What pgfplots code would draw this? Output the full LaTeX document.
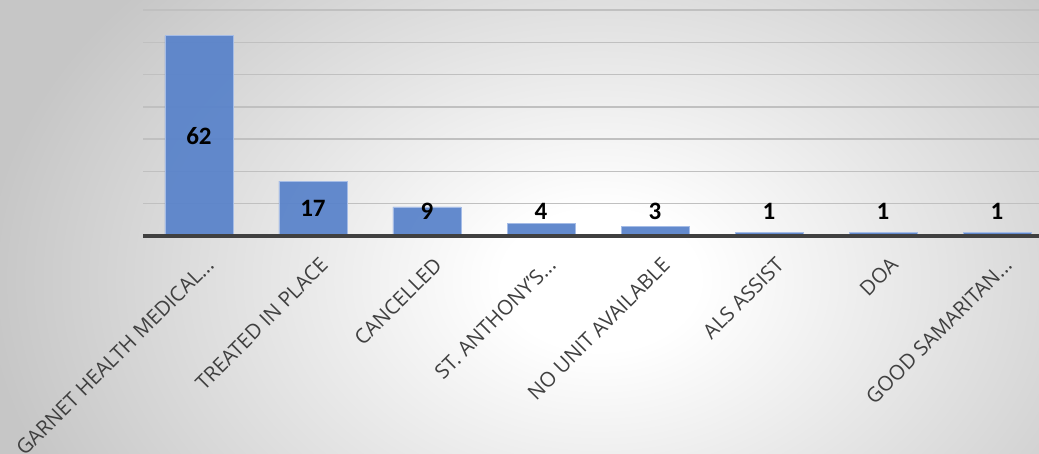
\documentclass[border=0pt]{standalone}
\usepackage{fontspec}
\setmainfont{Open Sans}
\newfontfamily\carlito{Carlito}
\usepackage{pgfplots}
\pgfplotsset{compat=1.18}
\definecolor{barblue}{RGB}{88,130,202}
\definecolor{baredge}{RGB}{165,188,230}
\definecolor{gridgray}{RGB}{192,192,192}
\definecolor{axisgray}{RGB}{64,64,64}
\definecolor{labelgray}{RGB}{64,64,64}
\definecolor{bgedge}{RGB}{198,198,198}
\pgfdeclareradialshading{bgshade}{\pgfpoint{0bp}{0bp}}{color(0bp)=(white); color(3.5bp)=(white); color(22bp)=(bgedge); color(50bp)=(bgedge)}
\newcommand{\dotsx}{.\kern0pt.\kern0pt.}
\begin{document}
\begin{tikzpicture}[x=1pt,y=1pt]
\begin{scope}
\clip (0,0) rectangle (1039,453);
\shade[shading=bgshade] (600-700,173-500) rectangle (600+700,173+500);
\end{scope}
\begin{axis}[
  at={(143pt,217pt)}, anchor=south west,
  scale only axis, width=896pt, height=226pt,
  xmin=-0.491, xmax=7.368, ymin=0, ymax=70,
  axis line style={draw=none},
  ytick={0,10,20,30,40,50,60,70}, yticklabels={},
  ymajorgrids, major grid style={gridgray, line width=1.4pt},
  xtick={0,1,2,3,4,5,6,7}, major tick length=0pt,
  xticklabels={{GARNET HEALTH MEDICAL\dotsx},{TREATED IN PLACE},{CANCELLED},{ST. ANTHONY'S\dotsx},{NO UNIT AVAILABLE},{ALS ASSIST},{DOA},{GOOD SAMARITAN\dotsx}},
  xticklabel style={rotate=45, anchor=north east, font=\fontsize{20.5}{24}\selectfont, text=labelgray, inner sep=0pt, yshift=-18pt, xshift=-10pt},
  clip=false,
]
\addplot[ybar, bar width=68pt, fill=barblue, fill opacity=0.93, draw=baredge, line width=0.8pt]
  coordinates {(0,62) (1,17) (2,9) (3,4) (4,3) (5,1) (6,1) (7,1)};
\addplot[only marks, mark=none, point meta=explicit symbolic, nodes near coords,
  every node near coord/.append style={anchor=center, font=\carlito\bfseries\fontsize{25}{27}\selectfont, text=black}]
  coordinates {(0,31)[62] (1,8.5)[17] (2,7.7)[9] (3,7.7)[4] (4,7.7)[3] (5,7.7)[1] (6,7.7)[1] (7,7.7)[1]};
\draw[axisgray, line width=3.5pt] (rel axis cs:0,0) -- (rel axis cs:1,0);
\end{axis}
\pgfresetboundingbox
\useasboundingbox (0,0) rectangle (1039,453);
\end{tikzpicture}
\end{document}
